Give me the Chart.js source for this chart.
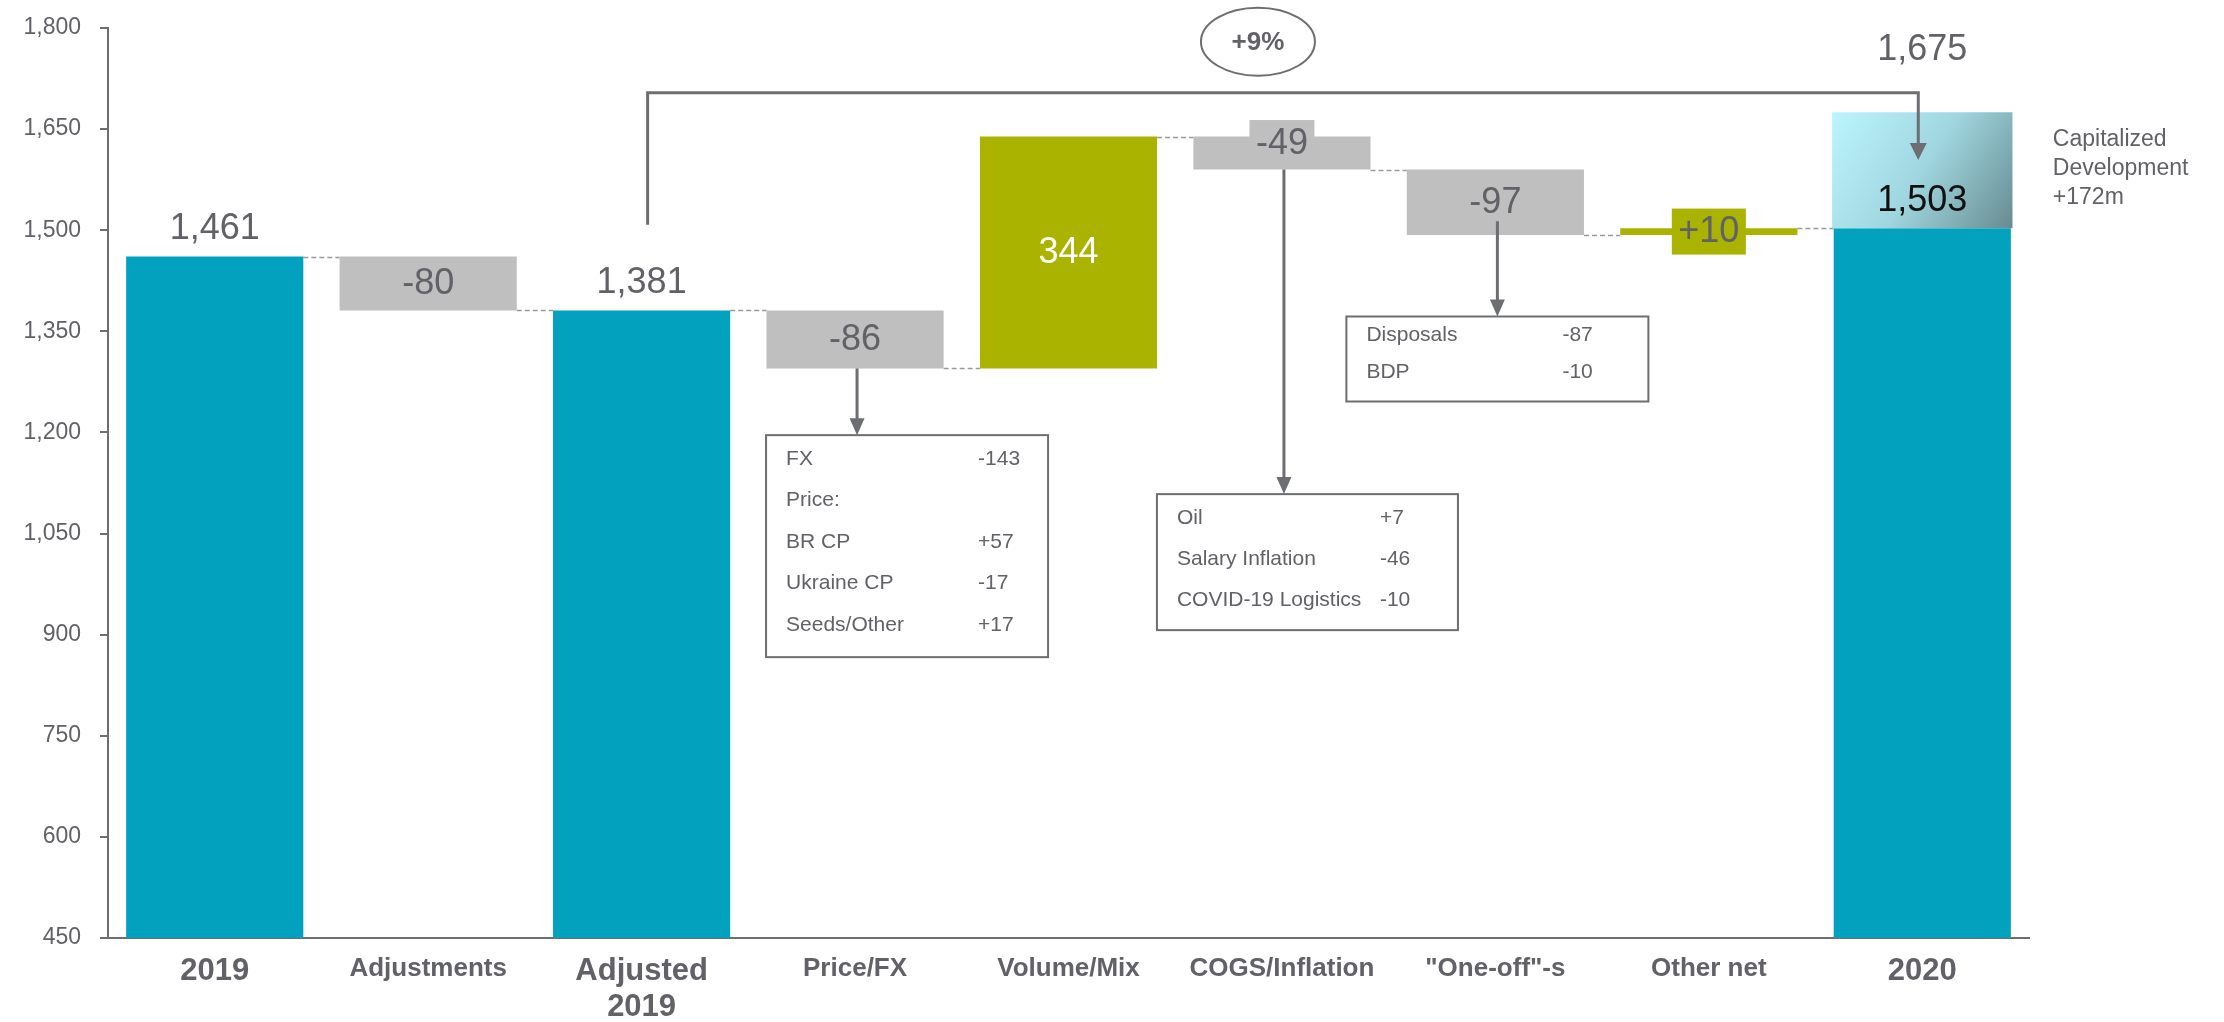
<!DOCTYPE html>
<html>
<head>
<meta charset="utf-8">
<title>Sales bridge 2019 – 2020</title>
<script src="https://cdn.jsdelivr.net/npm/chart.js@4/dist/chart.umd.min.js"></script>
<style>
  html, body { margin: 0; padding: 0; background: #ffffff; }
  #c { display: block; }
</style>
</head>
<body>
<canvas id="c" width="2224" height="1022"></canvas>
<script>
// ---- data -------------------------------------------------------------
const categories = ['2019', 'Adjustments', ['Adjusted', '2019'], 'Price/FX', 'Volume/Mix',
                    'COGS/Inflation', '"One-off"-s', 'Other net', '2020'];
const barValues = [1461, -80, 1381, -86, 344, -49, -97, 10, 1503];
const isTotal = [true, false, true, false, false, false, false, false, true];
const showPlusSign = [false, false, false, false, false, false, false, true, false];
const capitalizedDevelopment = 172;
const yTicks = [450, 600, 750, 900, 1050, 1200, 1350, 1500, 1650, 1800];

const priceFxBreakdown = [['FX', -143], ['Price:', null], ['BR CP', 57], ['Ukraine CP', -17], ['Seeds/Other', 17]];
const cogsBreakdown = [['Oil', 7], ['Salary Inflation', -46], ['COVID-19 Logistics', -10]];
const oneOffBreakdown = [['Disposals', -87], ['BDP', -10]];

// ---- styling ----------------------------------------------------------
const FONT = "'Liberation Sans', Arial, Helvetica, sans-serif";
const TEAL = '#02A2BF';
const GREY_BAR = '#BFBFBF';
const GREEN = '#AAB400';
const TEXT = '#616167';
const AXIS = '#6D6E72';
Chart.defaults.font.family = FONT;

// floating ranges built from the running total
const ranges = [];
const levels = [];
let running = 0;
barValues.forEach((v, i) => {
  if (isTotal[i]) { ranges.push([yTicks[0], v]); running = v; }
  else { ranges.push([running, running + v]); running += v; }
  levels.push(running);
});
const lastIdx = categories.length - 1;
const capTop = levels[lastIdx] + capitalizedDevelopment;
const capRanges = categories.map((_, i) => (i === lastIdx ? [levels[lastIdx], capTop] : null));
const barColors = barValues.map((v, i) => (isTotal[i] ? TEAL : v < 0 ? GREY_BAR : GREEN));

// label tweaks per bar
const labelStyle = { 4: { color: '#ffffff' }, 5: { dy: -10 } };

// growth bracket (value positions on the y scale)
const bracket = { from: 2, to: lastIdx, startValue: 1508, topValue: 1704, tipValue: 1604 };

// breakdown boxes hanging under the bars
const callouts = [
  { bar: 3, items: priceFxBreakdown, dx: -89, topValue: 1196, width: 282, height: 222, firstRow: 24, rowGap: 41.5, valueCol: 212, fromLabel: false },
  { bar: 5, items: cogsBreakdown, dx: -125, topValue: 1108.5, width: 301, height: 136, firstRow: 24, rowGap: 41, valueCol: 223, fromLabel: false },
  { bar: 6, items: oneOffBreakdown, dx: -149, topValue: 1372, width: 302, height: 85, firstRow: 19, rowGap: 37, valueCol: 216, fromLabel: true }
];

const fmt = v => v.toLocaleString('en-US');
const signed = v => (v > 0 ? '+' : '') + fmt(v);

function capGradient(context) {
  const chart = context.chart;
  if (!chart.chartArea || !context.raw) return '#9FD4DE';
  const xs = chart.scales.x, ys = chart.scales.y;
  const cx = xs.getPixelForValue(context.dataIndex);
  const half = (xs.width / categories.length) * 0.845 / 2;
  const top = ys.getPixelForValue(context.raw[1]);
  const bottom = ys.getPixelForValue(context.raw[0]);
  const g = chart.ctx.createLinearGradient(cx - half, top, cx + half, bottom);
  g.addColorStop(0, '#BCF5FD');
  g.addColorStop(0.5, '#A0D6DF');
  g.addColorStop(1, '#678B91');
  return g;
}

function arrowDown(ctx, x, yTip, w, h) {
  ctx.beginPath();
  ctx.moveTo(x - w / 2, yTip - h);
  ctx.lineTo(x + w / 2, yTip - h);
  ctx.lineTo(x, yTip);
  ctx.closePath();
  ctx.fill();
}

const bridgeAnnotations = {
  id: 'bridgeAnnotations',
  beforeDatasetsDraw(chart) {
    const ctx = chart.ctx;
    const ys = chart.scales.y;
    const bars = chart.getDatasetMeta(0).data;
    ctx.save();
    ctx.strokeStyle = '#9A9A9E';
    ctx.lineWidth = 1.5;
    ctx.setLineDash([5, 3]);
    for (let i = 0; i < lastIdx; i++) {
      const y = Math.round(ys.getPixelForValue(levels[i])) + 0.5;
      const x1 = bars[i].x + bars[i].width / 2;
      const x2 = bars[i + 1].x - bars[i + 1].width / 2;
      ctx.beginPath();
      ctx.moveTo(x1, y);
      ctx.lineTo(x2, y);
      ctx.stroke();
    }
    ctx.restore();
  },
  afterDatasetsDraw(chart) {
    const ctx = chart.ctx;
    const xs = chart.scales.x, ys = chart.scales.y;
    const xPix = i => xs.getPixelForValue(i);
    const yPix = v => ys.getPixelForValue(v);
    const bars = chart.getDatasetMeta(0).data;
    const labelCenters = [];

    ctx.save();
    ctx.textAlign = 'center';
    ctx.textBaseline = 'middle';
    ctx.font = `36px ${FONT}`;

    // value labels
    barValues.forEach((v, i) => {
      const cx = xPix(i);
      const st = labelStyle[i] || {};
      if (isTotal[i]) {
        ctx.fillStyle = i === lastIdx ? '#111111' : TEXT;
        ctx.fillText(fmt(v), cx, yPix(v) - 27);
        labelCenters.push(yPix(v) - 27);
      } else {
        const [a, b] = ranges[i];
        const cy = (yPix(a) + yPix(b)) / 2 + (st.dy || 0);
        const txt = (v > 0 && showPlusSign[i] ? '+' : '') + fmt(v);
        const w = ctx.measureText(txt).width + 13;
        const h = 46;
        ctx.fillStyle = barColors[i];
        ctx.fillRect(cx - w / 2, cy - h / 2, w, h);
        ctx.fillStyle = st.color || TEXT;
        ctx.fillText(txt, cx, cy + 1);
        labelCenters.push(cy);
      }
    });

    // total including capitalized development
    ctx.fillStyle = TEXT;
    ctx.fillText(fmt(capTop), xPix(lastIdx), yPix(capTop) - 62);

    // growth bracket
    const bx1 = xPix(bracket.from) + 6;
    const bx2 = xPix(bracket.to) - 4;
    const byTop = yPix(bracket.topValue);
    ctx.strokeStyle = AXIS;
    ctx.fillStyle = AXIS;
    ctx.lineWidth = 3;
    ctx.beginPath();
    ctx.moveTo(bx1, yPix(bracket.startValue));
    ctx.lineTo(bx1, byTop);
    ctx.lineTo(bx2, byTop);
    ctx.lineTo(bx2, yPix(bracket.tipValue) - 14);
    ctx.stroke();
    arrowDown(ctx, bx2, yPix(bracket.tipValue), 17, 17);

    // growth bubble
    const growth = Math.round((levels[lastIdx] / levels[bracket.from] - 1) * 100);
    const ex = xPix(5) - 24, ey = byTop - 51;
    ctx.lineWidth = 2;
    ctx.beginPath();
    ctx.ellipse(ex, ey, 57, 34, 0, 0, Math.PI * 2);
    ctx.stroke();
    ctx.fillStyle = TEXT;
    ctx.font = `bold 26px ${FONT}`;
    ctx.fillText((growth > 0 ? '+' : '') + growth + '%', ex, ey + 1);

    // breakdown boxes
    callouts.forEach(c => {
      const cx = xPix(c.bar) + 2;
      const left = xPix(c.bar) + c.dx;
      const top = yPix(c.topValue);
      const [a, b] = ranges[c.bar];
      const start = c.fromLabel ? labelCenters[c.bar] + 19 : Math.max(yPix(a), yPix(b));
      ctx.strokeStyle = AXIS;
      ctx.fillStyle = AXIS;
      ctx.lineWidth = 3;
      ctx.beginPath();
      ctx.moveTo(cx, start);
      ctx.lineTo(cx, top - 14);
      ctx.stroke();
      arrowDown(ctx, cx, top, 15, 17);

      ctx.lineWidth = 2;
      ctx.strokeRect(left, top, c.width, c.height);

      ctx.font = `21px ${FONT}`;
      ctx.textAlign = 'left';
      ctx.fillStyle = TEXT;
      const space = ctx.measureText(' ').width;
      c.items.forEach(([name, val], r) => {
        const y = top + c.firstRow + r * c.rowGap;
        const lx = left + 20;
        ctx.fillText(name, lx, y);
        if (val !== null) {
          const vx = Math.max(left + c.valueCol, lx + ctx.measureText(name).width + space);
          ctx.fillText(signed(val), vx, y);
        }
      });
      ctx.textAlign = 'center';
    });

    // side note for the capitalized block
    const capMid = (yPix(levels[lastIdx]) + yPix(capTop)) / 2 - 2;
    const noteX = bars[lastIdx].x + bars[lastIdx].width / 2 + 42;
    ctx.font = `23px ${FONT}`;
    ctx.textAlign = 'left';
    ctx.fillStyle = TEXT;
    ['Capitalized', 'Development', `+${capitalizedDevelopment}m`].forEach((t, k) => {
      ctx.fillText(t, noteX, capMid + (k - 1) * 29);
    });
    ctx.restore();
  }
};

new Chart(document.getElementById('c'), {
  type: 'bar',
  data: {
    labels: categories,
    datasets: [
      { data: ranges, backgroundColor: barColors, borderWidth: 0,
        barPercentage: 0.83, categoryPercentage: 1, grouped: false, order: 2 },
      { data: capRanges, backgroundColor: capGradient, borderWidth: 0,
        barPercentage: 0.845, categoryPercentage: 1, grouped: false, order: 1 }
    ]
  },
  options: {
    responsive: false,
    animation: false,
    devicePixelRatio: 1,
    layout: { padding: { top: 28, right: 195, bottom: 0, left: 0 } },
    plugins: { legend: { display: false }, tooltip: { enabled: false } },
    scales: {
      x: {
        grid: { display: false, drawTicks: false },
        border: { display: true, color: AXIS, width: 2 },
        ticks: {
          autoSkip: false, maxRotation: 0, padding: 16, color: TEXT,
          font: c => ({ family: FONT, weight: 'bold', size: isTotal[c.index] ? 31 : 26, lineHeight: 1.15 })
        },
        afterFit: s => { s.height = 84; }
      },
      y: {
        min: yTicks[0],
        max: yTicks[yTicks.length - 1],
        afterBuildTicks: s => { s.ticks = yTicks.map(v => ({ value: v })); },
        grid: { drawOnChartArea: false, drawTicks: true, tickLength: 8, color: AXIS, lineWidth: 2 },
        border: { display: true, color: AXIS, width: 2 },
        ticks: { padding: 19, color: TEXT, font: { family: FONT, size: 23, lineHeight: 0.6 }, callback: v => fmt(v) },
        afterFit: s => { s.width = 108; }
      }
    }
  },
  plugins: [bridgeAnnotations]
});
</script>
</body>
</html>
